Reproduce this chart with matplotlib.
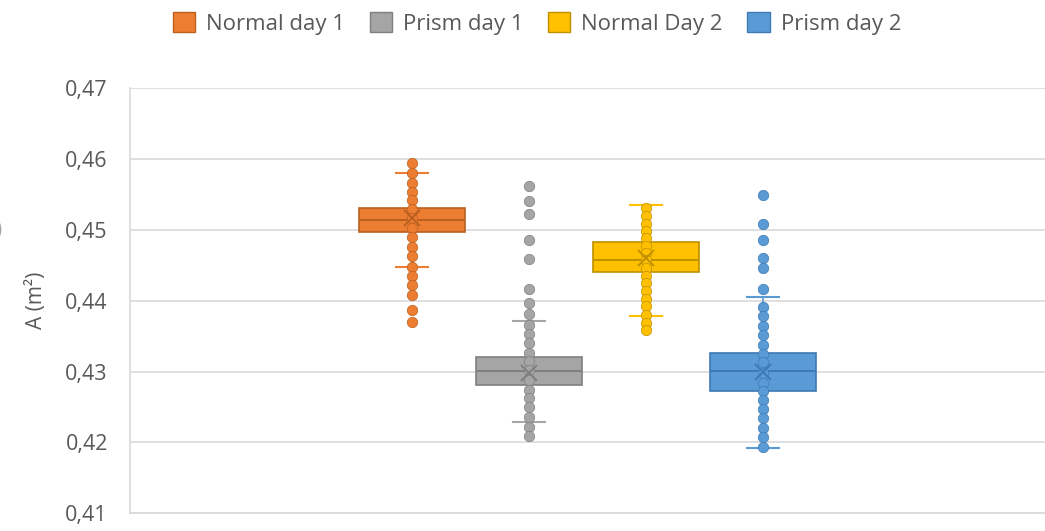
import matplotlib.pyplot as plt
from matplotlib.patches import Patch

plt.rcParams['font.family'] = ['Open Sans', 'DejaVu Sans']

series = ["Normal day 1", "Prism day 1", "Normal Day 2", "Prism day 2"]
colors = ["#ED7D31", "#A5A5A5", "#FFC000", "#5B9BD5"]
edges = ["#B9601F", "#7F7F7F", "#BF9000", "#3D7AB5"]

q1 = [0.4497, 0.4281, 0.4440, 0.4273]
med = [0.4514, 0.4301, 0.4458, 0.4301]
q3 = [0.4531, 0.4320, 0.4483, 0.4327]
wlo = [0.4448, 0.4229, 0.4379, 0.4192]
whi = [0.4580, 0.4372, 0.4535, 0.4405]
mean = [0.4517, 0.4298, 0.4461, 0.4300]

pts_n1 = [0.4595, 0.4580, 0.4566, 0.4554, 0.4543, 0.4530, 0.4517, 0.4503, 0.4490,
          0.4476, 0.4463, 0.4448, 0.4435, 0.4422, 0.4408, 0.4387, 0.4370]
pts_p1 = [0.4562, 0.4541, 0.4523, 0.4486, 0.4459, 0.4417, 0.4397, 0.4381, 0.4366,
          0.4353, 0.4340, 0.4327, 0.4315, 0.4302, 0.4288, 0.4274, 0.4263, 0.4250,
          0.4236, 0.4222, 0.4209]
pts_n2 = [0.4531, 0.4520, 0.4509, 0.4499, 0.4488, 0.4477, 0.4467, 0.4458, 0.4446,
          0.4435, 0.4425, 0.4414, 0.4403, 0.4392, 0.4380, 0.4369, 0.4359]
pts_p2 = [0.4549, 0.4509, 0.4486, 0.4461, 0.4446, 0.4416, 0.4391, 0.4378, 0.4365,
          0.4352, 0.4338, 0.4325, 0.4313, 0.4298, 0.4284, 0.4272, 0.4260, 0.4247,
          0.4234, 0.4221, 0.4208, 0.4194]
points = [pts_n1, pts_p1, pts_n2, pts_p2]

yticks = [0.41, 0.42, 0.43, 0.44, 0.45, 0.46, 0.47]
ytick_labels = ["0,41", "0,42", "0,43", "0,44", "0,45", "0,46", "0,47"]

fig = plt.figure(figsize=(10.45, 5.31), dpi=100)
ax = fig.add_axes([0.1244, 0.0333, 0.8756, 0.8004])

positions = [1, 2, 3, 4]
for i in range(4):
    stats = [{"q1": q1[i], "med": med[i], "q3": q3[i], "whislo": wlo[i],
              "whishi": whi[i], "mean": mean[i], "fliers": []}]
    ax.bxp(stats, positions=[positions[i]], widths=0.9, patch_artist=True,
           showmeans=False, showfliers=False, manage_ticks=False,
           boxprops=dict(facecolor=colors[i], edgecolor=edges[i], linewidth=1.2),
           medianprops=dict(color=edges[i], linewidth=1.4),
           whiskerprops=dict(color=colors[i], linewidth=1.2),
           capprops=dict(color=colors[i], linewidth=1.5), capwidths=0.27,
           zorder=2)
    ax.plot([positions[i]] * len(points[i]), points[i], 'o', color=colors[i],
            markersize=7.5, markeredgecolor=edges[i], markeredgewidth=0.5, zorder=3)
    ax.plot(positions[i], mean[i], 'x', color=edges[i], markersize=11,
            markeredgewidth=1.4, zorder=4)

ax.set_xlim(-1.41, 6.41)
ax.set_ylim(0.41, 0.47)
ax.set_yticks(yticks)
ax.set_yticklabels(ytick_labels)
ax.set_xticks([])
ax.grid(axis='y', color='#D9D9D9', linewidth=1.2)
ax.set_axisbelow(True)
for s in ['top', 'right']:
    ax.spines[s].set_visible(False)
for s in ['left', 'bottom']:
    ax.spines[s].set_color('#D9D9D9')
    ax.spines[s].set_linewidth(1.2)
ax.tick_params(axis='y', length=0, pad=16, labelsize=15.5, labelcolor='#595959')
ax.set_ylabel("A (m²)", fontsize=15, color='#595959', labelpad=13)

# partially clipped label fragment at the left edge
fig.text(-0.004, 0.565, ")", fontsize=15, color='#A6A6A6', ha='left', va='center')

handles = [Patch(facecolor=c, edgecolor=e, label=s) for c, e, s in zip(colors, edges, series)]
fig.legend(handles=handles, loc='upper center', bbox_to_anchor=(0.514, 1.015), ncol=4,
           frameon=False, fontsize=16, labelcolor='#595959', handlelength=1.0,
           handleheight=1.0, handletextpad=0.5, columnspacing=1.1)

fig.savefig("out.png", dpi=100)
